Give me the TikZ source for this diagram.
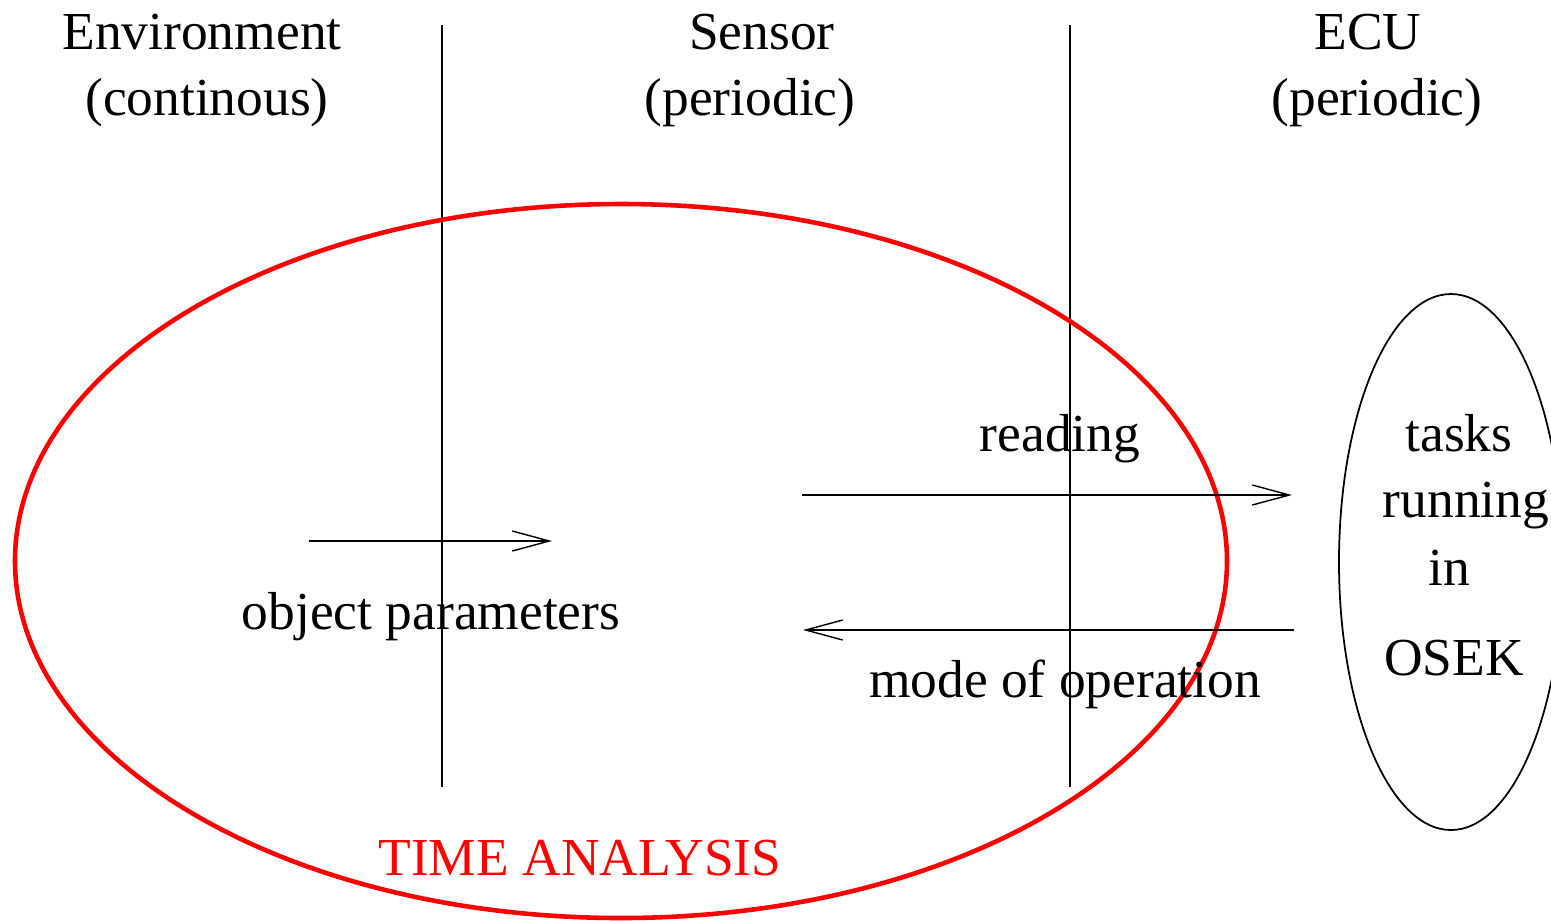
\documentclass[tikz,border=0pt]{standalone}
\usepackage{fontspec}
\setmainfont{Liberation Serif}
\usetikzlibrary{arrows.meta}

\begin{document}
\begin{tikzpicture}[x=0.01cm,y=-0.01cm]
    \tikzset{lbl/.style = {anchor=base,inner sep=0pt,font=\fontsize{15.2}{18}\selectfont}}
    \tikzset{redlbl/.style = {lbl,text=red}}
    \tikzset{edge/.style = {-{Straight Barb[length=3.7mm,width=2mm]},line width=0.4pt}}
    \tikzset{border/.style = {line width=0.4pt}}

    \useasboundingbox (0,0) rectangle (1551,920);

    % headings

    \node[lbl] (env) at (202,49) {Environment};
    \node[lbl] (envmode) at (207,115) {(continous)};
    \node[lbl] (sen) at (762,49) {Sensor};
    \node[lbl] (senmode) at (750,115) {(periodic)};
    \node[lbl] (ecu) at (1368,49) {ECU};
    \node[lbl] (ecumode) at (1377,115) {(periodic)};

    % borders
    \coordinate (b1t) at (442,25);
    \coordinate (b1b) at (442,787);
    \coordinate (b2t) at (1070,25);
    \coordinate (b2b) at (1070,787);
    \draw[border] (b1t) -- (b1b);
    \draw[border] (b2t) -- (b2b);

    % regions
    \draw[red,line width=1.3pt] (621,561) ellipse [x radius=606,y radius=357];
    \draw[line width=0.5pt] (1451,562) ellipse [x radius=112,y radius=268];

    % arrows
    \coordinate (p1) at (309,541);
    \coordinate (p2) at (552,541);
    \coordinate (r1) at (802,495);
    \coordinate (r2) at (1292,495);
    \coordinate (m1) at (1294,630);
    \coordinate (m2) at (803,630);
    \draw[edge] (p1) to (p2);
    \draw[edge] (r1) to (r2);
    \draw[edge] (m1) to (m2);

    % labels
    \node[lbl] (par) at (431,629) {object parameters};
    \node[lbl] (rd) at (1060,451) {reading};
    \node[lbl] (mo) at (1065,697) {mode of operation};
    \node[lbl] (t1) at (1459,451) {tasks};
    \node[lbl] (t2) at (1466,517) {running};
    \node[lbl] (t3) at (1449,585) {in};
    \node[lbl] (t4) at (1454,675) {OSEK};
    \node[redlbl] (ta) at (580,875) {TIME ANALYSIS};
\end{tikzpicture}
\end{document}
